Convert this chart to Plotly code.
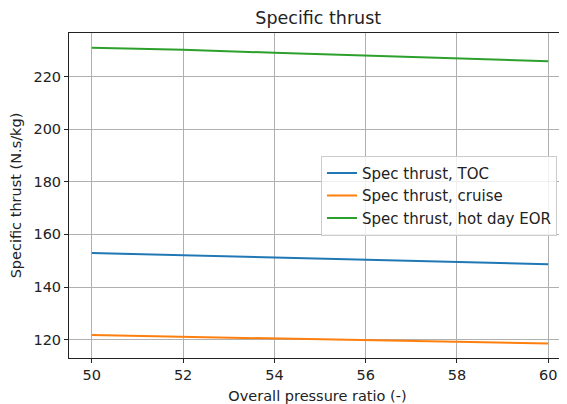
import plotly.graph_objects as go

opr = [50, 52, 54, 56, 58, 60]
spec_thrust_toc = [152.9, 152.1, 151.2, 150.4, 149.5, 148.7]
spec_thrust_cruise = [121.7, 121.1, 120.5, 119.9, 119.2, 118.5]
spec_thrust_hot_day = [231.0, 230.2, 229.1, 228.1, 227.1, 225.9]

series = [
    ("Spec thrust, TOC", spec_thrust_toc, "#1f77b4"),
    ("Spec thrust, cruise", spec_thrust_cruise, "#ff7f0e"),
    ("Spec thrust, hot day EOR", spec_thrust_hot_day, "#2ca02c"),
]

fig = go.Figure()
for name, vals, col in series:
    fig.add_trace(go.Scatter(x=opr, y=vals, name=name, mode="lines",
                             line=dict(color=col, width=2)))

axis_common = dict(
    showgrid=True, gridcolor="#b0b0b0", gridwidth=1,
    showline=True, linecolor="#222222", linewidth=1,
    ticks="outside", ticklen=4, tickcolor="#222222",
    tickfont=dict(size=14.5, color="#222222"), zeroline=False,
    automargin=False,
)

# page has an 8px body margin, so the figure is a bit smaller than the window
fig.update_layout(
    width=559, height=396,
    margin=dict(l=61, r=1, t=25, b=46),
    paper_bgcolor="white", plot_bgcolor="white",
    font=dict(family="DejaVu Sans", color="#222222"),
    title=dict(text="Specific thrust", x=0.555, xanchor="center",
               y=0.975, yanchor="middle", font=dict(size=17.5, color="#222222"),
               automargin=False),
    xaxis=dict(range=[49.5, 60.39], tickvals=[50, 52, 54, 56, 58, 60],
               mirror=True,
               title=dict(text="Overall pressure ratio (-)", font=dict(size=14.5), standoff=11),
               **axis_common),
    yaxis=dict(range=[113.0, 236.6], tickvals=[120, 140, 160, 180, 200, 220],
               title=dict(text="Specific thrust (N.s/kg)", font=dict(size=14.5), standoff=12),
               **axis_common),
    legend=dict(x=0.507, y=0.622, xanchor="left", yanchor="top",
                bgcolor="rgba(255,255,255,0.8)", bordercolor="#cccccc", borderwidth=1,
                font=dict(size=15, color="#222222"), tracegroupgap=0, itemwidth=30),
    showlegend=True,
)

fig.write_html("out.html")
